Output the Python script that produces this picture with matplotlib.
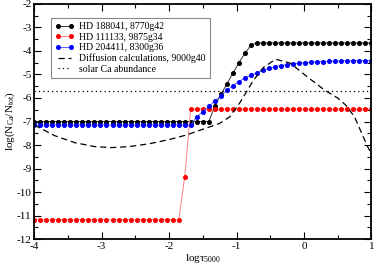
import numpy as np
import matplotlib
matplotlib.use('Agg')
import matplotlib.pyplot as plt

plt.rcParams['font.family'] = ['Liberation Serif', 'DejaVu Serif']
plt.rcParams['mathtext.fontset'] = 'custom'
plt.rcParams['mathtext.rm'] = 'Liberation Serif'
plt.rcParams['mathtext.it'] = 'Liberation Serif'

# depth grid of the models (log tau_5000)
logtau = [-4.000, -3.911, -3.821, -3.732, -3.643, -3.554, -3.464, -3.375, -3.286, -3.196,
          -3.107, -3.018, -2.929, -2.839, -2.750, -2.661, -2.571, -2.482, -2.393, -2.304,
          -2.214, -2.125, -2.036, -1.946, -1.857, -1.768, -1.679, -1.589, -1.500, -1.411,
          -1.321, -1.232, -1.143, -1.054, -0.964, -0.875, -0.786, -0.696, -0.607, -0.518,
          -0.429, -0.339, -0.250, -0.161, -0.071, 0.018, 0.107, 0.196, 0.286, 0.375,
          0.464, 0.554, 0.643, 0.732, 0.821, 0.911, 1.000]

hd188041 = [-7.0] * 30 + [-6.35, -5.85, -5.4, -4.95, -4.5, -4.1, -3.75] + [-3.66] * 20
hd111133 = [-11.18] * 25 + [-9.36] + [-6.47] * 31
hd204411 = [-7.15] * 27 + [-6.8, -6.58, -6.36, -6.13, -5.9, -5.68, -5.47, -5.3, -5.15,
                           -5.03, -4.92, -4.83, -4.74, -4.67, -4.62, -4.58, -4.55, -4.52,
                           -4.50, -4.48, -4.47, -4.45, -4.44, -4.43, -4.42, -4.42, -4.41,
                           -4.41, -4.41, -4.41]

diff_x = [-4.0, -3.7, -3.4, -3.1, -2.85, -2.6, -2.3, -2.0, -1.75, -1.5, -1.25, -1.1, -0.95,
          -0.75, -0.6, -0.42, -0.2, 0.05, 0.3, 0.5, 0.62, 0.75, 0.85, 0.95, 1.0]
diff_y = [-7.15, -7.6, -7.9, -8.07, -8.11, -8.07, -7.95, -7.77, -7.58, -7.33, -7.08, -6.8, -6.2,
          -5.25, -4.7, -4.35, -4.52, -5.1, -5.65, -6.0, -6.3, -6.8, -7.45, -8.1, -8.35]

solar_ca = -5.7

fig = plt.figure(figsize=(3.74, 2.65), dpi=100)
ax = fig.add_axes([0.0917, 0.098, 0.9011, 0.887])

ax.plot(logtau, hd188041, color='#333333', lw=0.7, marker='o', ms=2.6, mfc='black', mec='black',
        label='HD 188041, 8770g42')
ax.plot(logtau, hd111133, color='#ff8080', lw=0.7, marker='o', ms=2.6, mfc='red', mec='red',
        label='HD 111133, 9875g34')
ax.plot(logtau, hd204411, color='#6060ff', lw=0.7, marker='o', ms=2.6, mfc='blue', mec='blue',
        label='HD 204411, 8300g36')
ax.plot(diff_x, diff_y, color='black', lw=0.9, ls=(0, (5, 3)), label='Diffusion calculations, 9000g40')
ax.axhline(solar_ca, color='black', lw=0.9, ls=(0, (1, 2.5)), label='solar Ca abundance')

ax.set_xlim(-4, 1)
ax.set_ylim(-12, -2)
ax.set_xticks([-4, -3, -2, -1, 0, 1])
ax.set_xticklabels(['-4', '-3', '-2', '-1', '0', '1'])
ax.set_yticks(range(-12, -1))
ax.set_yticklabels([str(v) for v in range(-12, -1)])
ax.set_xticks(np.arange(-3.5, 1, 1.0), minor=True)
ax.set_yticks(np.arange(-11.5, -2, 1.0), minor=True)
ax.tick_params(which='both', direction='in', top=True, right=True, labelsize=8, pad=2)
ax.tick_params(which='major', length=5, width=0.8)
ax.tick_params(which='minor', length=3, width=0.8)
for s in ax.spines.values():
    s.set_linewidth(1.3)

ax.set_xlabel(r'log$\tau_{5000}$', fontsize=8, labelpad=1)
ax.set_ylabel(r'log(N$_{\rm Ca}$/N$_{\rm tot}$)', fontsize=8, labelpad=0)

leg = ax.legend(loc='upper left', bbox_to_anchor=(0.035, 0.96), fontsize=7, numpoints=2,
                handlelength=2.0, fancybox=False, framealpha=1, edgecolor='#888888',
                borderpad=0.4, labelspacing=0.15, handletextpad=0.5)
leg.get_frame().set_linewidth(0.8)

fig.savefig('out.png', dpi=100)
